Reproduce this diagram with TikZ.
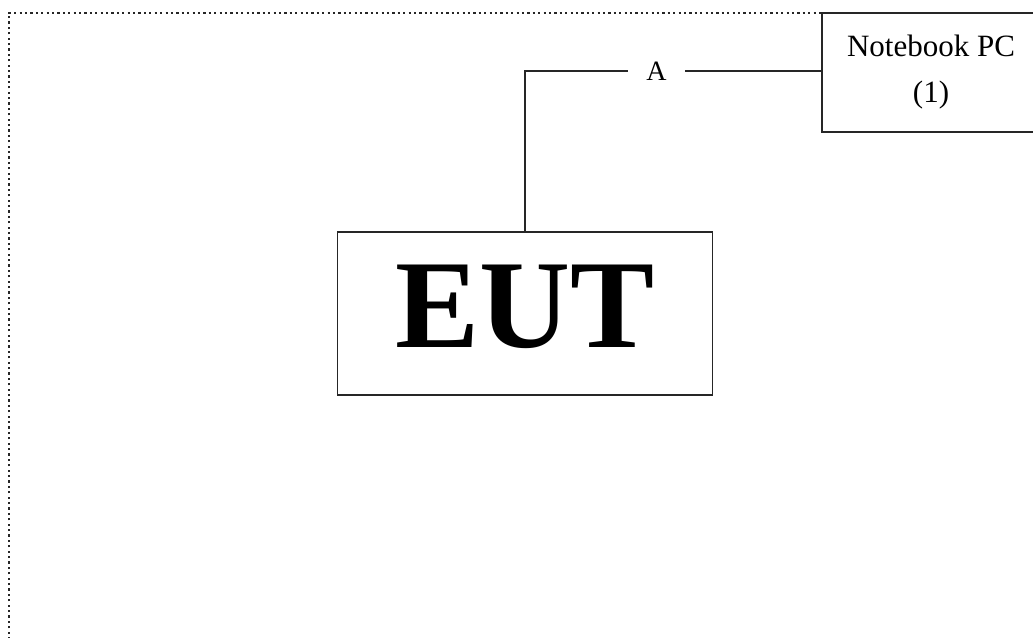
\documentclass[tikz,border=0pt]{standalone}
\usepackage{fontspec}
\setmainfont{Liberation Serif}
\begin{document}
\begin{tikzpicture}[x=1pt,y=-1pt,
  frame/.style={draw=black!85, line width=2.2pt, dash pattern=on 2.2pt off 3.2pt},
  box/.style={draw=black!85, line width=1.2pt, rectangle, inner sep=0pt},
  wire/.style={draw=black!85, line width=1.2pt},
  lbl/.style={font=\fontsize{28}{30}\selectfont, fill=white, inner sep=0pt, minimum width=57pt, minimum height=24pt}]
\useasboundingbox (0,0) rectangle (1033,637);
\clip (0,0) rectangle (1033,637);
\draw[frame] (9,650) -- (9,12.7) -- (1045,12.7);
\node[box, minimum width=375pt, minimum height=163pt] (eut) at (525,313.5) {};
\node[font=\fontsize{126}{130}\selectfont\bfseries, inner sep=0pt, anchor=base] (euttext) at (525,347) {EUT};
\node[box, minimum width=218pt, minimum height=119pt, align=center, font=\fontsize{31}{46}\selectfont] (nb) at (931,72.5) {Notebook PC\\(1)};
\node[lbl] (a) at (656.5,71) {A};
\draw[wire] (eut.north) |- (a.west);
\draw[wire] (a.east) -- (a.east -| nb.west);
\end{tikzpicture}
\end{document}
